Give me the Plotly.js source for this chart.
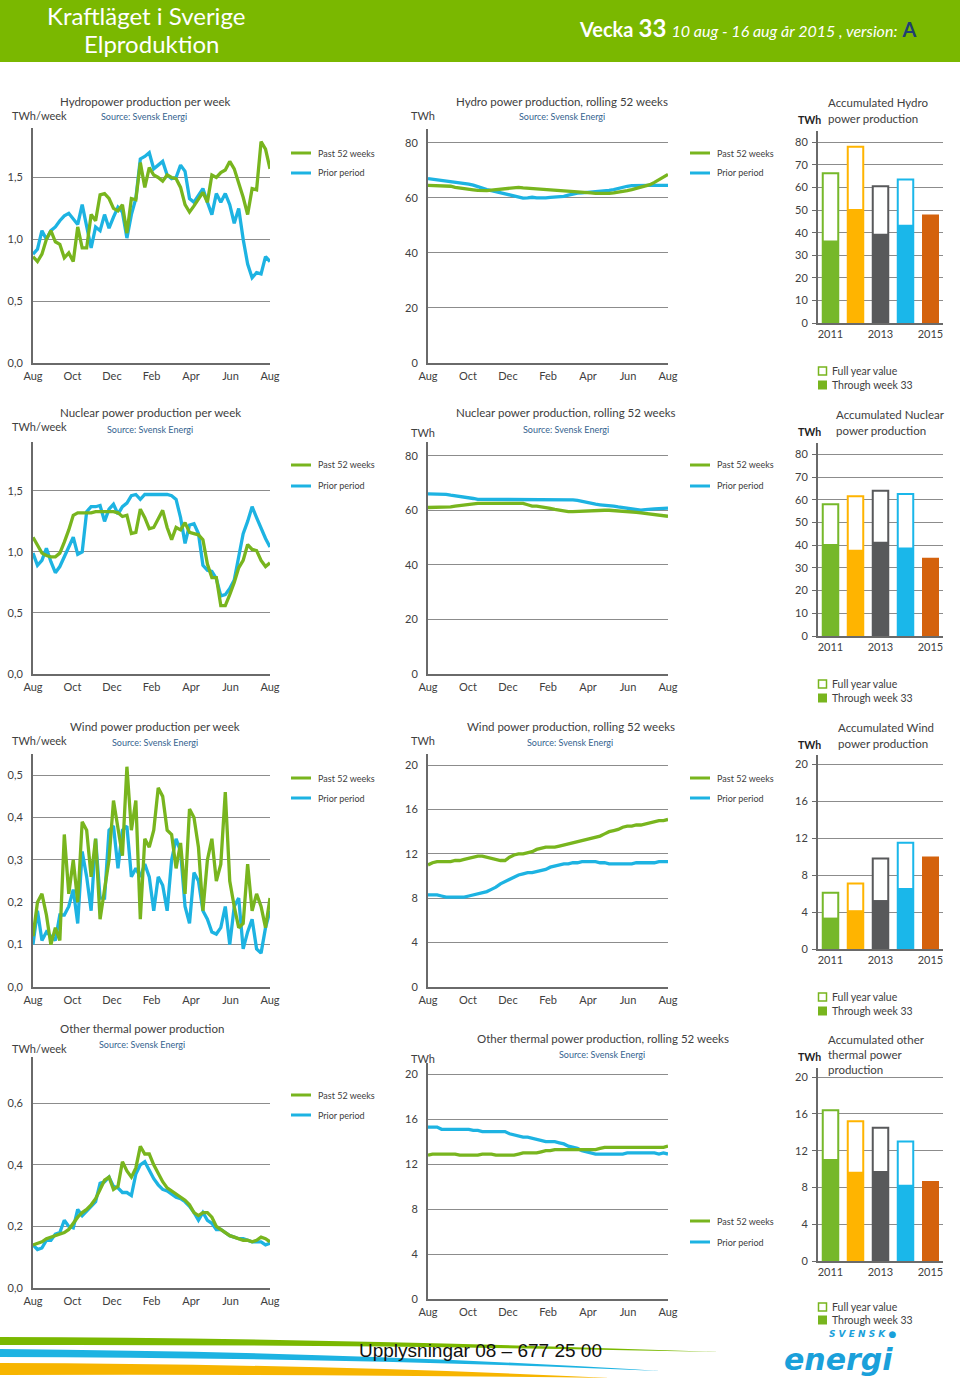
<!DOCTYPE html>
<html><head><meta charset="utf-8">
<script src="https://cdn.plot.ly/plotly-3.0.1.min.js"></script>
<style>html,body{margin:0;padding:0;background:#fff}#chart{width:960px;height:1380px}</style>
</head><body><div id="chart"></div>
<script>
// ---------------- DATA ----------------
const monthLabels = ['Aug','Oct','Dec','Feb','Apr','Jun','Aug'];
const seriesNames = ['Past 52 weeks','Prior period'];
const years = [2011,2012,2013,2014,2015];
const yearTickVals = [2011,2013,2015];
const yearTickText = ['2011','2013','2015'];
const barLegendNames = ['Full year value','Through week 33'];

// Hydro
const hydroWeekPast = [0.86,0.82,0.88,1.0,1.07,0.98,0.96,0.85,0.89,0.82,1.1,0.93,0.93,1.2,1.15,1.36,1.37,1.33,1.25,1.23,1.28,1.05,1.33,1.32,1.62,1.42,1.58,1.52,1.5,1.47,1.52,1.5,1.49,1.42,1.28,1.22,1.27,1.33,1.38,1.3,1.52,1.5,1.54,1.56,1.63,1.57,1.46,1.34,1.2,1.41,1.4,1.79,1.73,1.57];
const hydroWeekPrior = [0.88,0.92,1.07,1.0,1.07,1.1,1.15,1.19,1.21,1.16,1.12,1.28,1.1,0.93,1.1,1.07,1.2,1.09,1.18,1.26,1.22,1.01,1.2,1.33,1.65,1.67,1.7,1.57,1.6,1.63,1.52,1.49,1.5,1.6,1.55,1.33,1.3,1.35,1.41,1.3,1.2,1.37,1.3,1.37,1.28,1.13,1.25,1.0,0.8,0.69,0.73,0.72,0.86,0.82];
const hydroRollPast = [64.5,64.5,64.5,64.5,64.4,64.2,63.8,63.5,63.2,63.0,62.9,62.7,62.5,62.6,62.8,63.0,63.2,63.4,63.5,63.6,63.8,63.6,63.5,63.4,63.2,63.0,62.9,62.8,62.6,62.5,62.4,62.3,62.3,62.3,62.2,62.0,61.8,61.6,61.5,61.5,61.6,61.8,62.0,62.3,62.6,63.0,63.4,63.8,64.2,64.8,65.6,66.5,67.5,68.5];
const hydroRollPrior = [67.0,66.8,66.6,66.3,66.0,66.0,65.8,65.5,65.2,65.0,64.6,64.0,63.5,63.0,62.6,62.2,61.8,61.3,60.8,60.4,60.0,59.9,60.0,60.2,60.0,59.9,60.0,60.2,60.3,60.3,60.5,61.0,61.5,61.7,61.8,61.9,62.0,62.3,62.4,62.5,62.7,63.0,63.5,63.9,64.2,64.4,64.5,64.5,64.5,64.5,64.5,64.5,64.5,64.5];
const hydroFullYear = [66.3,78,60.5,63.5,null];
const hydroThroughWeek = [36.5,50.5,39.5,43.5,48];

// Nuclear
const nuclearWeekPast = [1.12,1.06,0.99,0.97,0.96,0.96,0.99,1.08,1.18,1.3,1.32,1.32,1.32,1.32,1.33,1.33,1.33,1.33,1.33,1.32,1.29,1.3,1.15,1.16,1.35,1.28,1.19,1.2,1.27,1.34,1.2,1.1,1.2,1.18,1.24,1.16,1.15,1.14,1.1,0.9,0.79,0.79,0.56,0.56,0.65,0.75,0.87,0.93,1.06,1.02,1.01,0.93,0.88,0.91];
const nuclearWeekPrior = [0.99,0.89,0.93,1.03,0.92,0.83,0.88,0.96,1.03,1.12,0.98,1.0,1.33,1.37,1.37,1.38,1.25,1.35,1.39,1.31,1.37,1.4,1.46,1.47,1.43,1.47,1.47,1.47,1.47,1.47,1.47,1.46,1.43,1.28,1.07,1.22,1.23,1.15,0.89,0.85,0.84,0.78,0.64,0.65,0.7,0.77,0.97,1.15,1.25,1.37,1.28,1.19,1.11,1.04];
const nuclearRollPast = [61,61,61,61,61,61.2,61.5,61.7,62,62.3,62.5,62.5,62.5,62.5,62.5,62.5,62.5,62.5,62.5,62.5,62.5,62.5,62,61.5,61.5,61.3,61,60.7,60.3,60,59.7,59.5,59.5,59.6,59.7,59.8,60,60,60,60,60,59.9,59.8,59.7,59.6,59.5,59.2,59,58.8,58.5,58.3,58,57.9,57.8];
const nuclearRollPrior = [66,66,66,66,65.8,65.5,65.3,65.1,65,64.7,64.3,64,64,64,64,63.9,63.8,63.8,63.8,63.8,63.8,63.8,63.8,63.8,63.8,63.8,63.8,63.8,63.8,63.8,63.8,63.8,63.8,63.6,63.2,62.8,62.5,62.2,62,61.9,61.8,61.5,61.2,61,60.7,60.4,60.1,60,60.2,60.5,60.5,60.6,60.6,60.8];
const nuclearFullYear = [58,61.5,64,62.5,null];
const nuclearThroughWeek = [40.5,38,41.5,39,34.5];

// Wind
const windWeekPast = [0.12,0.2,0.22,0.17,0.1,0.14,0.11,0.36,0.22,0.3,0.2,0.39,0.37,0.26,0.35,0.16,0.23,0.3,0.44,0.38,0.31,0.52,0.37,0.44,0.16,0.35,0.33,0.37,0.47,0.45,0.37,0.36,0.28,0.34,0.22,0.42,0.4,0.33,0.18,0.3,0.35,0.25,0.29,0.46,0.25,0.19,0.14,0.15,0.29,0.18,0.22,0.19,0.14,0.21];
const windWeekPrior = [0.1,0.18,0.11,0.13,0.12,0.11,0.17,0.17,0.19,0.23,0.15,0.32,0.26,0.18,0.35,0.21,0.21,0.37,0.38,0.28,0.37,0.38,0.26,0.28,0.26,0.29,0.26,0.18,0.26,0.24,0.18,0.3,0.35,0.32,0.19,0.15,0.27,0.25,0.18,0.16,0.13,0.125,0.14,0.19,0.1,0.19,0.21,0.09,0.13,0.16,0.09,0.08,0.14,0.18];
const windRollPast = [11.0,11.2,11.3,11.3,11.3,11.3,11.4,11.4,11.5,11.6,11.7,11.8,11.8,11.7,11.6,11.5,11.4,11.4,11.7,11.9,12.0,12.0,12.1,12.2,12.4,12.5,12.6,12.6,12.6,12.7,12.8,12.9,13.0,13.1,13.2,13.3,13.4,13.5,13.6,13.8,14.0,14.1,14.2,14.4,14.5,14.5,14.6,14.6,14.7,14.8,14.9,15.0,15.0,15.1];
const windRollPrior = [8.3,8.3,8.3,8.2,8.1,8.1,8.1,8.1,8.1,8.2,8.3,8.4,8.5,8.6,8.8,9.0,9.3,9.5,9.7,9.9,10.1,10.2,10.3,10.3,10.4,10.5,10.6,10.8,10.9,11.0,11.1,11.1,11.2,11.2,11.3,11.3,11.3,11.3,11.2,11.2,11.1,11.1,11.1,11.1,11.1,11.1,11.2,11.2,11.2,11.2,11.2,11.3,11.3,11.3];
const windFullYear = [6.1,7.1,9.8,11.5,null];
const windThroughWeek = [3.4,4.2,5.3,6.6,10.0];

// Other thermal
const thermalWeekPast = [0.14,0.145,0.15,0.16,0.165,0.17,0.175,0.18,0.19,0.21,0.23,0.245,0.255,0.27,0.29,0.32,0.35,0.36,0.32,0.33,0.41,0.38,0.36,0.39,0.46,0.435,0.435,0.4,0.37,0.345,0.325,0.315,0.305,0.295,0.285,0.27,0.245,0.235,0.245,0.245,0.23,0.2,0.19,0.18,0.17,0.165,0.16,0.155,0.155,0.15,0.155,0.165,0.16,0.15];
const thermalWeekPrior = [0.14,0.125,0.13,0.155,0.155,0.175,0.18,0.22,0.2,0.195,0.255,0.235,0.25,0.265,0.28,0.34,0.345,0.36,0.33,0.325,0.31,0.31,0.3,0.37,0.4,0.41,0.38,0.355,0.335,0.32,0.315,0.305,0.295,0.29,0.28,0.265,0.245,0.22,0.245,0.22,0.21,0.19,0.19,0.18,0.17,0.165,0.16,0.16,0.155,0.15,0.15,0.15,0.14,0.145];
const thermalRollPast = [12.8,12.9,12.9,12.9,12.9,12.9,12.9,12.8,12.8,12.8,12.8,12.8,12.9,12.9,12.9,12.8,12.8,12.8,12.8,12.8,12.9,13.0,13.0,13.0,13.0,13.1,13.2,13.2,13.3,13.3,13.3,13.3,13.3,13.3,13.3,13.3,13.3,13.3,13.4,13.5,13.5,13.5,13.5,13.5,13.5,13.5,13.5,13.5,13.5,13.5,13.5,13.5,13.5,13.6];
const thermalRollPrior = [15.3,15.3,15.3,15.1,15.1,15.1,15.1,15.1,15.1,15.1,15.0,15.0,14.9,14.9,14.9,14.9,14.9,14.9,14.7,14.6,14.5,14.4,14.4,14.3,14.2,14.1,14.0,14.0,14.0,13.9,13.8,13.6,13.5,13.4,13.2,13.1,13.0,12.9,12.9,12.9,12.9,12.9,12.9,12.9,13.0,13.0,13.0,13.0,13.0,13.0,13.0,12.9,13.0,12.9];
const thermalFullYear = [16.4,15.2,14.5,13.0,null];
const thermalThroughWeek = [11.1,9.7,9.8,8.3,8.7];

// ---------------- STYLE / LAYOUT ----------------
const W = 960, H = 1380;
const F = 'Lato, "Open Sans", sans-serif';
const GREEN = '#78b51e', BLUE = '#1db3e2';
const yearColors = ['#76b82a','#ffb400','#58595b','#1ab7ea','#d4620d'];
const TXT = '#404040', SRC = '#35638f', GRID = '#8c8c8c', AXL = '#6a6a6a';
const X = v => v / W, Y = v => 1 - v / H;

const traces = [];
const layout = {
  width: W, height: H, margin: {l:0,r:0,t:0,b:0},
  paper_bgcolor:'#fff', plot_bgcolor:'#fff', showlegend:false,
  barmode:'overlay', separators:', ', font:{family:F, color:TXT},
  shapes:[], annotations:[]
};
function ax(i){ return i===1 ? '' : String(i); }
function addLinePanel(i, past, prior, xd, yd, range, dtick, fmt){
  const n = past.length;
  const xs = past.map((_, k) => k);
  traces.push({type:'scatter', mode:'lines', x:xs, y:prior, name:seriesNames[1], xaxis:'x'+ax(i), yaxis:'y'+ax(i), line:{color:BLUE, width:3.3}, hoverinfo:'skip'});
  traces.push({type:'scatter', mode:'lines', x:xs, y:past, name:seriesNames[0], xaxis:'x'+ax(i), yaxis:'y'+ax(i), line:{color:GREEN, width:3.3}, hoverinfo:'skip'});
  layout['xaxis'+ax(i)] = {domain:[X(xd[0]),X(xd[1])], anchor:'y'+ax(i), range:[0,n-1],
    tickmode:'array', tickvals: monthLabels.map((_,k)=>k*(n-1)/(monthLabels.length-1)), ticktext: monthLabels,
    showgrid:false, zeroline:false, showline:true, linecolor:AXL, linewidth:2, ticks:'', ticklabelstandoff:2,
    tickfont:{size:11,color:TXT,family:F}, fixedrange:true};
  layout['yaxis'+ax(i)] = {domain:[Y(yd[1]),Y(yd[0])], anchor:'x'+ax(i), range:range, dtick:dtick, tick0:0, tickformat:fmt,
    showgrid:true, gridcolor:GRID, gridwidth:1, zeroline:false, showline:true, linecolor:AXL, linewidth:2, ticks:'',
    ticklabelstandoff:6, tickfont:{size:11,color:TXT,family:F}, fixedrange:true};
}
function addBarPanel(i, full, through, yd, range, dtick){
  traces.push({type:'bar', x:years, y:full, name:barLegendNames[0], xaxis:'x'+ax(i), yaxis:'y'+ax(i), width:0.62,
    marker:{color:'#ffffff', line:{color:yearColors, width:2}}, hoverinfo:'skip'});
  traces.push({type:'bar', x:years, y:through, name:barLegendNames[1], xaxis:'x'+ax(i), yaxis:'y'+ax(i), width:0.68,
    marker:{color:yearColors, line:{width:0}}, hoverinfo:'skip'});
  layout['xaxis'+ax(i)] = {domain:[X(818),X(943)], anchor:'y'+ax(i), range:[2010.5,2015.5],
    tickmode:'array', tickvals:yearTickVals, ticktext:yearTickText, showgrid:false, zeroline:false,
    showline:true, linecolor:AXL, linewidth:2, ticks:'', tickfont:{size:11,color:TXT,family:F}, fixedrange:true};
  layout['yaxis'+ax(i)] = {domain:[Y(yd[1]),Y(yd[0])], anchor:'x'+ax(i), range:range, dtick:dtick, tick0:0,
    showgrid:true, gridcolor:GRID, gridwidth:1, zeroline:false, showline:true, linecolor:AXL, linewidth:2,
    ticks:'outside', ticklen:4, tickcolor:AXL, ticklabelstandoff:2, tickfont:{size:11,color:TXT,family:F}, fixedrange:true};
}

// Row 1 - Hydro
addLinePanel(1, hydroWeekPast, hydroWeekPrior, [33,270], [128,363], [0,1.9], 0.5, '.1f');
addLinePanel(2, hydroRollPast, hydroRollPrior, [428,668], [129,363], [0,85], 20, 'd');
addBarPanel(3, hydroFullYear, hydroThroughWeek, [131,323], [0,85], 10);
// Row 2 - Nuclear
addLinePanel(4, nuclearWeekPast, nuclearWeekPrior, [33,270], [442,674], [0,1.9], 0.5, '.1f');
addLinePanel(5, nuclearRollPast, nuclearRollPrior, [428,668], [442,674], [0,85], 20, 'd');
addBarPanel(6, nuclearFullYear, nuclearThroughWeek, [443,636], [0,85], 10);
// Row 3 - Wind
addLinePanel(7, windWeekPast, windWeekPrior, [33,270], [754,987], [0,0.55], 0.1, '.1f');
addLinePanel(8, windRollPast, windRollPrior, [428,668], [754,987], [0,21], 4, 'd');
addBarPanel(9, windFullYear, windThroughWeek, [755,949], [0,21], 4);
// Row 4 - Other thermal
addLinePanel(10, thermalWeekPast, thermalWeekPrior, [33,270], [1057,1288], [0,0.75], 0.2, '.1f');
addLinePanel(11, thermalRollPast, thermalRollPrior, [428,668], [1063,1299], [0,21], 4, 'd');
addBarPanel(12, thermalFullYear, thermalThroughWeek, [1068,1261], [0,21], 4);

// ---------- text helpers ----------
function T(text, x, y, o){ const a = {text:text, x:X(x), y:Y(y), xref:'paper', yref:'paper', showarrow:false,
  xanchor:'center', yanchor:'middle', font:{family:F, size:11, color:TXT}}; return Object.assign(a, o||{}); }
const A = layout.annotations, S = layout.shapes;
function lineLegend(x, y1, y2){
  S.push({type:'line', xref:'paper', yref:'paper', x0:X(x), x1:X(x+20), y0:Y(y1), y1:Y(y1), line:{color:GREEN,width:3}});
  S.push({type:'line', xref:'paper', yref:'paper', x0:X(x), x1:X(x+20), y0:Y(y2), y1:Y(y2), line:{color:BLUE,width:3}});
  A.push(T(seriesNames[0], x+25, y1, {xanchor:'left', font:{family:F,size:9,color:TXT}}));
  A.push(T(seriesNames[1], x+25, y2, {xanchor:'left', font:{family:F,size:9,color:TXT}}));
}
function barLegend(y1, y2){
  S.push({type:'rect', xref:'paper', yref:'paper', x0:X(818.5), x1:X(826.5), y0:Y(y1-4), y1:Y(y1+4), line:{color:GREEN,width:1.5}, fillcolor:'#fff'});
  S.push({type:'rect', xref:'paper', yref:'paper', x0:X(818), x1:X(827), y0:Y(y2-4.5), y1:Y(y2+4.5), line:{width:0}, fillcolor:GREEN});
  A.push(T(barLegendNames[0], 830, y1, {xanchor:'left', font:{family:F,size:10.5,color:TXT}}));
  A.push(T(barLegendNames[1], 830, y2, {xanchor:'left', font:{family:F,size:10.5,color:TXT}}));
}
const src = 'Source: Svensk Energi';
const srcFont = {family:F, size:9, color:SRC};
const ttlFont = {family:F, size:11.5, color:TXT};

// Header
S.push({type:'rect', xref:'paper', yref:'paper', x0:0, x1:1, y0:Y(62), y1:1, line:{width:0}, fillcolor:'#7ab800', layer:'below'});
A.push(T('Kraftläget i Sverige', 146, 15, {font:{family:F,size:24,color:'#fff'}}));
A.push(T('Elproduktion', 152, 44, {font:{family:F,size:24,color:'#fff'}}));
A.push(T('<b>Vecka</b> <b><span style="font-size:24px">33</span></b> <span style="font-size:16px"><i>10 aug - 16 aug år 2015 , version:</i></span> <b><span style="font-size:20px;fill:#1f3f72">A</span></b>',
  577, 28, {xanchor:'left', font:{family:F,size:20,color:'#fff'}}));

// Row 1 labels
A.push(T('Hydropower production per week', 145, 101, {font:ttlFont}));
A.push(T(src, 144, 117, {font:srcFont}));
A.push(T('TWh/week', 10, 115, {xanchor:'left'}));
A.push(T('Hydro power production, rolling 52 weeks', 562, 101, {font:ttlFont}));
A.push(T(src, 562, 117, {font:srcFont}));
A.push(T('TWh', 409, 115, {xanchor:'left'}));
A.push(T('Accumulated Hydro', 826, 102, {xanchor:'left', font:ttlFont}));
A.push(T('power production', 826, 118, {xanchor:'left', font:ttlFont}));
A.push(T('<b>TWh</b>', 796, 120, {xanchor:'left', font:{family:F,size:10.5,color:'#222'}}));
lineLegend(291, 153, 173); lineLegend(690, 153, 173); barLegend(371, 385);

// Row 2 labels
A.push(T('Nuclear power production per week', 150, 413, {font:ttlFont}));
A.push(T(src, 150, 429, {font:srcFont}));
A.push(T('TWh/week', 10, 427, {xanchor:'left'}));
A.push(T('Nuclear power production, rolling 52 weeks', 566, 413, {font:ttlFont}));
A.push(T(src, 566, 429, {font:srcFont}));
A.push(T('TWh', 409, 433, {xanchor:'left'}));
A.push(T('Accumulated Nuclear', 834, 414, {xanchor:'left', font:ttlFont}));
A.push(T('power production', 834, 430, {xanchor:'left', font:ttlFont}));
A.push(T('<b>TWh</b>', 796, 432, {xanchor:'left', font:{family:F,size:10.5,color:'#222'}}));
lineLegend(291, 465, 486); lineLegend(690, 465, 486); barLegend(684, 698);

// Row 3 labels
A.push(T('Wind power production per week', 155, 726, {font:ttlFont}));
A.push(T(src, 155, 742, {font:srcFont}));
A.push(T('TWh/week', 10, 740, {xanchor:'left'}));
A.push(T('Wind power production, rolling 52 weeks', 571, 726, {font:ttlFont}));
A.push(T(src, 570, 742, {font:srcFont}));
A.push(T('TWh', 409, 740, {xanchor:'left'}));
A.push(T('Accumulated Wind', 836, 727, {xanchor:'left', font:ttlFont}));
A.push(T('power production', 836, 743, {xanchor:'left', font:ttlFont}));
A.push(T('<b>TWh</b>', 796, 745, {xanchor:'left', font:{family:F,size:10.5,color:'#222'}}));
lineLegend(291, 778, 798); lineLegend(690, 778, 798); barLegend(997, 1011);

// Row 4 labels
A.push(T('Other thermal power production', 142, 1028, {font:ttlFont}));
A.push(T(src, 142, 1044, {font:srcFont}));
A.push(T('TWh/week', 10, 1048, {xanchor:'left'}));
A.push(T('Other thermal power production, rolling 52 weeks', 603, 1038, {font:ttlFont}));
A.push(T(src, 602, 1054, {font:srcFont}));
A.push(T('TWh', 409, 1058, {xanchor:'left'}));
A.push(T('Accumulated other', 826, 1039, {xanchor:'left', font:ttlFont}));
A.push(T('thermal power', 826, 1054, {xanchor:'left', font:ttlFont}));
A.push(T('production', 826, 1069, {xanchor:'left', font:ttlFont}));
A.push(T('<b>TWh</b>', 796, 1057, {xanchor:'left', font:{family:F,size:10.5,color:'#222'}}));
lineLegend(291, 1095, 1115); lineLegend(690, 1221, 1242); barLegend(1307, 1320);

// Footer decoration (swooshes)
S.push({type:'path', xref:'paper', yref:'paper', layer:'below', line:{width:0}, fillcolor:'#7ab800',
  path:'M 0 '+Y(1337)+' Q '+X(330)+' '+Y(1338)+' '+X(720)+' '+Y(1352)+' Q '+X(330)+' '+Y(1344)+' 0 '+Y(1345)+' Z'});
S.push({type:'path', xref:'paper', yref:'paper', layer:'below', line:{width:0}, fillcolor:'#1db3e2',
  path:'M 0 '+Y(1349)+' Q '+X(360)+' '+Y(1352)+' '+X(660)+' '+Y(1371)+' Q '+X(360)+' '+Y(1358)+' 0 '+Y(1357)+' Z'});
S.push({type:'path', xref:'paper', yref:'paper', layer:'below', line:{width:0}, fillcolor:'#f7b500',
  path:'M 0 '+Y(1363)+' Q '+X(330)+' '+Y(1364)+' '+X(610)+' '+Y(1378)+' Q '+X(330)+' '+Y(1374)+' 0 '+Y(1375)+' Z'});
A.push(T('Upplysningar 08 – 677 25 00', 480, 1350, {font:{family:'"Liberation Sans", Arial, sans-serif', size:19, color:'#111'}}));
A.push(T('<b><i>S V E N S K ●</i></b>', 862, 1334, {borderpad:0, font:{family:'"DejaVu Sans", sans-serif', size:9, color:'#1aa0da'}}));
A.push(T('<b><i>energi</i></b>', 838, 1359, {borderpad:0, font:{family:'"DejaVu Sans", sans-serif', size:30, color:'#1aa0da'}}));

Plotly.newPlot('chart', traces, layout, {displayModeBar:false, staticPlot:true});
</script>
</body></html>
